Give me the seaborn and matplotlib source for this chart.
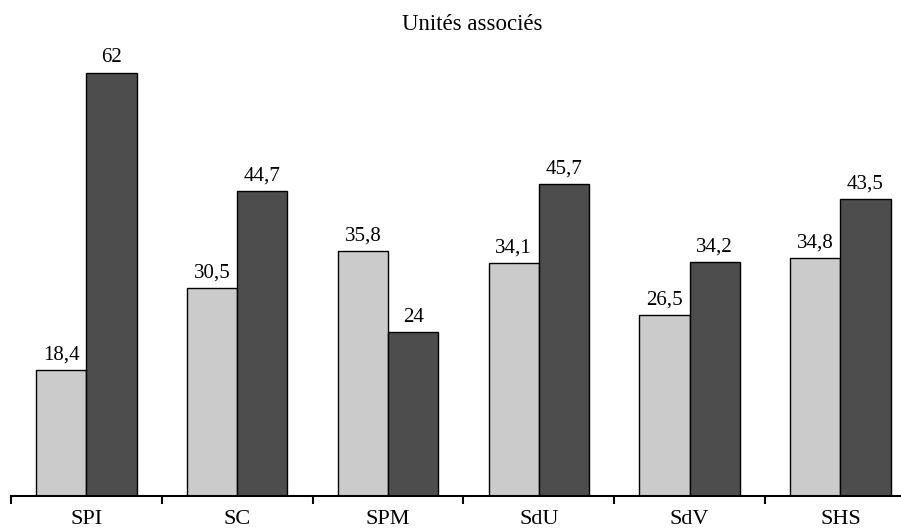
import matplotlib
matplotlib.use("Agg")
import matplotlib.pyplot as plt
import seaborn as sns
import pandas as pd
import numpy as np

# Values per discipline, two series
categories = ["SPI", "SC", "SPM", "SdU", "SdV", "SHS"]
series_names = ["s1", "s2"]
values_light = [18.4, 30.5, 35.8, 34.1, 26.5, 34.8]
values_dark = [62, 44.7, 24, 45.7, 34.2, 43.5]
title = "Unités associés"

df = pd.DataFrame({
    "cat": categories * 2,
    "serie": [series_names[0]] * len(categories) + [series_names[1]] * len(categories),
    "val": values_light + values_dark,
})

sns.set_theme(style="white")
plt.rcParams["font.family"] = ["Liberation Serif", "DejaVu Serif"]

W, H = 901, 528
fig = plt.figure(figsize=(W / 100, H / 100), dpi=100)
group_px = 150.8
left_px, axis_y_px = 11, 496
px_per_unit = 6.83
ymax = 70
ax = fig.add_axes([left_px / W, (H - axis_y_px) / H,
                   6 * group_px / W, ymax * px_per_unit / H])

sns.barplot(data=df, x="cat", y="val", hue="serie", order=categories,
            hue_order=series_names, palette=["#cbcbcb", "#4d4d4d"],
            width=2 / 3, edgecolor="black", linewidth=1.0, saturation=1,
            legend=False, ax=ax)

ax.set_xlim(-0.5, len(categories) - 0.5)
ax.set_ylim(0, ymax)

def fmt(v):
    return f"{v:g}".replace(".", ",")

for cont, vals in zip(ax.containers, [values_light, values_dark]):
    ax.bar_label(cont, labels=[fmt(v) for v in vals], padding=4,
                 fontsize=15, color="black")

for s in ["top", "right", "left"]:
    ax.spines[s].set_visible(False)
ax.spines["bottom"].set_color("black")
ax.spines["bottom"].set_linewidth(1.5)
ax.set_yticks([])
ax.set_xlabel("")
ax.set_ylabel("")

ax.set_xticks(range(len(categories)))
ax.set_xticklabels(categories, fontsize=16, color="black")
ax.tick_params(axis="x", which="major", length=0, pad=10)
ax.set_xticks(np.arange(-0.5, len(categories), 1.0), minor=True)
ax.tick_params(axis="x", which="minor", length=6, width=1.5, color="black",
               direction="out", bottom=True)

fig.text(472 / W, (H - 24) / H, title, ha="center", va="center",
         fontsize=16.5, color="black")

fig.savefig("out.png", dpi=100)
